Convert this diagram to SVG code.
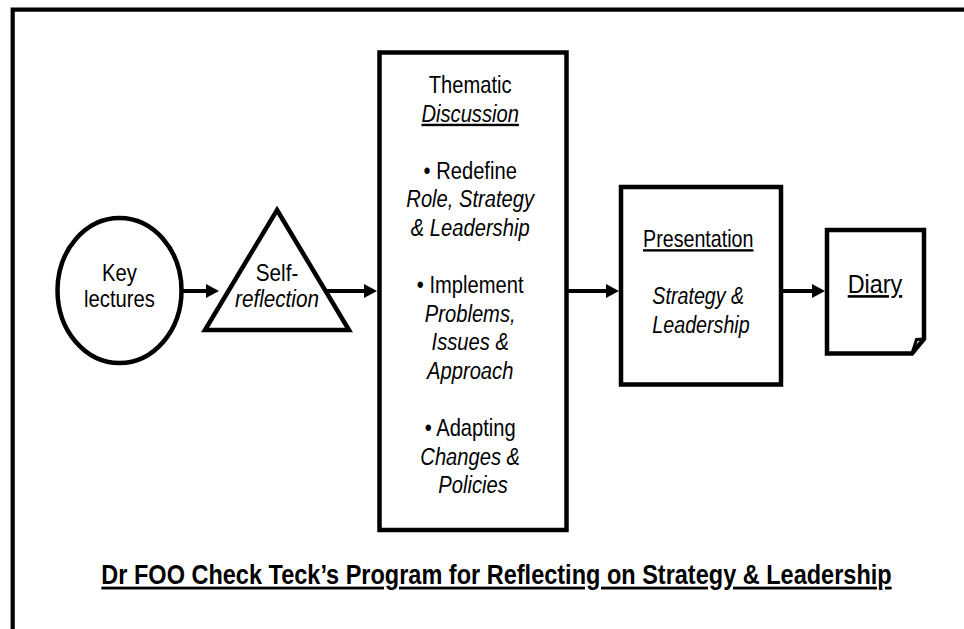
<svg xmlns="http://www.w3.org/2000/svg" width="964" height="629" viewBox="0 0 964 629">
<defs>
<style>
.shape{fill:#fff;stroke:#000;stroke-width:4.5;stroke-linejoin:miter}
.frame{fill:none;stroke:#000;stroke-width:4.2}
.conn{fill:none;stroke:#000;stroke-width:4}
.t{font-family:"Liberation Sans",Arial,sans-serif;fill:#000;text-anchor:middle}
.b24{font-size:24px}
.b23{font-size:23px}
.i{font-style:italic}
.u{text-decoration:underline}
.title{font-size:28px;font-weight:bold;text-decoration:underline}
</style>
<marker id="ah" markerUnits="userSpaceOnUse" markerWidth="14" markerHeight="15" refX="3" refY="7" orient="auto">
<path d="M0,0 L13,7 L0,14 Z" fill="#000"/>
</marker>
</defs>
<rect x="0" y="0" width="964" height="629" fill="#fff"/>
<path class="frame" d="M12.7,629 V9.6 H966"/>

<g id="connectors">
<line class="conn" x1="182" y1="291" x2="209" y2="291" marker-end="url(#ah)"/>
<line class="conn" x1="326" y1="291" x2="367" y2="291" marker-end="url(#ah)"/>
<line class="conn" x1="567" y1="291" x2="609" y2="291" marker-end="url(#ah)"/>
<line class="conn" x1="781" y1="291" x2="815" y2="291" marker-end="url(#ah)"/>
</g>

<g id="key-lectures">
<ellipse class="shape" cx="119.5" cy="290.5" rx="62" ry="72.5"/>
<text class="t b23" transform="translate(119.5,0) scale(0.88,1)"><tspan x="0" y="281">Key</tspan><tspan x="0" y="307">lectures</tspan></text>
</g>

<g id="self-reflection">
<path class="shape" d="M277,210 L349,330 L205,330 Z"/>
<text class="t b23" transform="translate(277,0) scale(0.9,1)"><tspan x="0" y="281">Self-</tspan><tspan class="i" x="0" y="307">reflection</tspan></text>
</g>

<g id="thematic-discussion">
<rect class="shape" x="379.5" y="52.5" width="187" height="477.5"/>
<text class="t b24" transform="translate(473,0) scale(0.84,1)">
<tspan x="0" y="93">Thematic</tspan>
<tspan class="i u" x="0" y="121.6">Discussion</tspan>
<tspan x="0" y="178.8">• Redefine</tspan>
<tspan class="i" x="0" y="207.4">Role, Strategy</tspan>
<tspan class="i" x="0" y="236">&amp; Leadership</tspan>
<tspan x="0" y="293.2">• Implement</tspan>
<tspan class="i" x="0" y="321.8">Problems,</tspan>
<tspan class="i" x="0" y="350.4">Issues &amp;</tspan>
<tspan class="i" x="0" y="379">Approach</tspan>
<tspan x="0" y="436.2">• Adapting</tspan>
<tspan class="i" x="0" y="464.8">Changes &amp;</tspan>
<tspan class="i" x="0" y="493.4">Policies</tspan>
</text>
</g>

<g id="presentation">
<rect class="shape" x="621" y="187" width="160" height="197.5"/>
<text class="t b24" transform="translate(701,0) scale(0.82,1)">
<tspan class="u" x="0" y="247">Presentation</tspan>
<tspan class="i" x="0" y="304.5">Strategy &amp;</tspan>
<tspan class="i" x="0" y="333">Leadership</tspan>
</text>
</g>

<g id="diary">
<path class="shape" d="M827,230 H924 V339 L912,353.5 H827 Z"/>
<path d="M912,353.5 L916.5,339.5 L924,339" fill="none" stroke="#000" stroke-width="3" stroke-linejoin="miter"/>
<text class="t u" style="font-size:26px" transform="translate(875,0) scale(0.9,1)" x="0" y="293">Diary</text>
</g>

<g id="title">
<text class="t title" transform="translate(496.5,0) scale(0.84,1)" x="0" y="584.5">Dr FOO Check Teck’s Program for Reflecting on Strategy &amp; Leadership</text>
</g>
</svg>
